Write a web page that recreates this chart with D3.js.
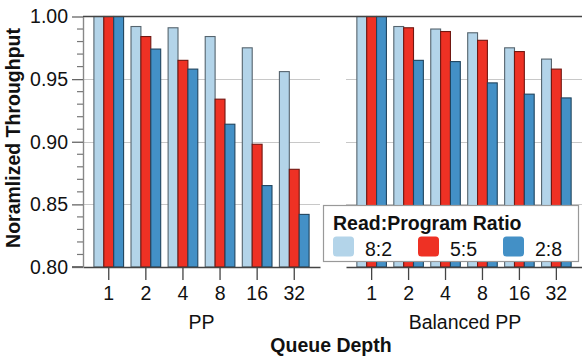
<!DOCTYPE html>
<html>
<head>
<meta charset="utf-8">
<script src="https://cdn.jsdelivr.net/npm/d3@7"></script>
<style>
  html, body { margin: 0; padding: 0; background: #fff; }
  svg { display: block; }
  text { font-family: "Liberation Sans", Arial, Helvetica, sans-serif; fill: #111; }
</style>
</head>
<body>
<svg id="chart" width="582" height="358"></svg>
<script>
// ---- data ----
const depths = ["1", "2", "4", "8", "16", "32"];
const ratios = ["8:2", "5:5", "2:8"];
const panels = ["PP", "Balanced PP"];
const pp82  = [1.000, 0.992, 0.991, 0.984, 0.975, 0.956];
const pp55  = [1.000, 0.984, 0.965, 0.934, 0.898, 0.878];
const pp28  = [1.000, 0.974, 0.958, 0.914, 0.865, 0.842];
const bal82 = [1.000, 0.992, 0.990, 0.987, 0.975, 0.966];
const bal55 = [1.000, 0.991, 0.988, 0.981, 0.972, 0.958];
const bal28 = [1.000, 0.965, 0.964, 0.947, 0.938, 0.935];
const yTicks = [0.80, 0.85, 0.90, 0.95, 1.00];
const colors = ["#b3d4e9", "#ee3124", "#4390c6"];

const panelData = [[pp82, pp55, pp28], [bal82, bal55, bal28]];

const svg = d3.select("#chart");
const font = 19.5;

const y = d3.scaleLinear().domain([0.8, 1.0]).range([267, 16.5]);
const panelRanges = [[83, 320], [346, 582]];
const color = d3.scaleOrdinal().domain(ratios).range(colors);

// gridlines
panelRanges.forEach(r => {
  svg.append("g").selectAll("line").data([0.85, 0.90, 0.95]).join("line")
    .attr("x1", r[0]).attr("x2", r[1])
    .attr("y1", d => Math.round(y(d)) + 0.5).attr("y2", d => Math.round(y(d)) + 0.5)
    .attr("stroke", "#c8c8c8").attr("stroke-width", 1.2);
});

// bars
panelData.forEach((series, pi) => {
  const x0 = d3.scaleBand().domain(depths).range(panelRanges[pi])
    .paddingInner(0.2).paddingOuter(0.294);
  const x1 = d3.scaleBand().domain(ratios).range([0, x0.bandwidth()]).padding(0);
  const g = svg.append("g");
  depths.forEach((dep, di) => {
    ratios.forEach((rat, ri) => {
      const v = series[ri][di];
      const c = color(rat);
      g.append("rect")
        .attr("x", x0(dep) + x1(rat))
        .attr("y", y(v))
        .attr("width", x1.bandwidth())
        .attr("height", y(0.8) - y(v))
        .attr("fill", c)
        .attr("stroke", d3.rgb(c).darker(2.1))
        .attr("stroke-width", 1.1);
    });
  });
  // bottom axis
  const ax = svg.append("g").attr("transform", "translate(0,267)")
    .call(d3.axisBottom(x0).tickSize(13).tickSizeOuter(0).tickPadding(6));
  ax.select(".domain").attr("stroke", "#444").attr("stroke-width", 1.5);
  ax.selectAll(".tick line").attr("stroke", "#444").attr("stroke-width", 1.3);
  ax.selectAll(".tick text").style("font-size", font + "px").attr("fill", "#111");
  // panel title
  svg.append("text")
    .attr("x", (panelRanges[pi][0] + panelRanges[pi][1]) / 2 + (pi === 0 ? 0 : 1))
    .attr("y", 329)
    .attr("text-anchor", "middle")
    .style("font-size", font + "px")
    .text(panels[pi]);
});

// extend left end of bottom domain for 0.80 tick
svg.append("line").attr("x1", 72).attr("x2", 83).attr("y1", 267).attr("y2", 267)
  .attr("stroke", "#444").attr("stroke-width", 1.5);

// top line at 1.00
svg.append("line").attr("x1", 83).attr("x2", 582)
  .attr("y1", y(1.0)).attr("y2", y(1.0))
  .attr("stroke", "#444").attr("stroke-width", 1.5);

// left y axis
const ay = svg.append("g").attr("transform", "translate(83,0)")
  .call(d3.axisLeft(y).tickValues(yTicks).tickFormat(d3.format(".2f")).tickSize(11).tickSizeOuter(0).tickPadding(4));
ay.select(".domain").attr("stroke", "#888").attr("stroke-width", 1.4);
ay.selectAll(".tick line").attr("stroke", "#666").attr("stroke-width", 1.3);
ay.selectAll(".tick text").style("font-size", font + "px").attr("fill", "#111");
// minor ticks
const minor = d3.range(0.81, 1.0, 0.01).filter(v => Math.abs(Math.round(v * 20) - v * 20) > 0.01);
svg.append("g").selectAll("line").data(minor).join("line")
  .attr("x1", 77).attr("x2", 83)
  .attr("y1", d => y(d)).attr("y2", d => y(d))
  .attr("stroke", "#777").attr("stroke-width", 1.2);

// axis titles
svg.append("text")
  .attr("transform", "translate(20,138) rotate(-90)")
  .attr("text-anchor", "middle")
  .style("font-size", font + "px").style("font-weight", "bold")
  .text("Noramlized Throughput");
svg.append("text")
  .attr("x", 331).attr("y", 352)
  .attr("text-anchor", "middle")
  .style("font-size", font + "px").style("font-weight", "bold")
  .text("Queue Depth");

// legend
const lg = svg.append("g");
lg.append("rect").attr("x", 323.5).attr("y", 205.5).attr("width", 255).attr("height", 56)
  .attr("fill", "#fff").attr("stroke", "#999").attr("stroke-width", 1.2);
lg.append("text").attr("x", 333).attr("y", 229.5)
  .style("font-size", font + "px").style("font-weight", "bold")
  .text("Read:Program Ratio");
const legX = [333, 418, 503];
ratios.forEach((r, i) => {
  lg.append("rect").attr("x", legX[i]).attr("y", 236.5).attr("width", 21).attr("height", 20)
    .attr("rx", 3.5).attr("fill", color(r));
  lg.append("text").attr("x", legX[i] + 32).attr("y", 255.5)
    .style("font-size", font + "px")
    .text(r);
});
</script>
</body>
</html>
